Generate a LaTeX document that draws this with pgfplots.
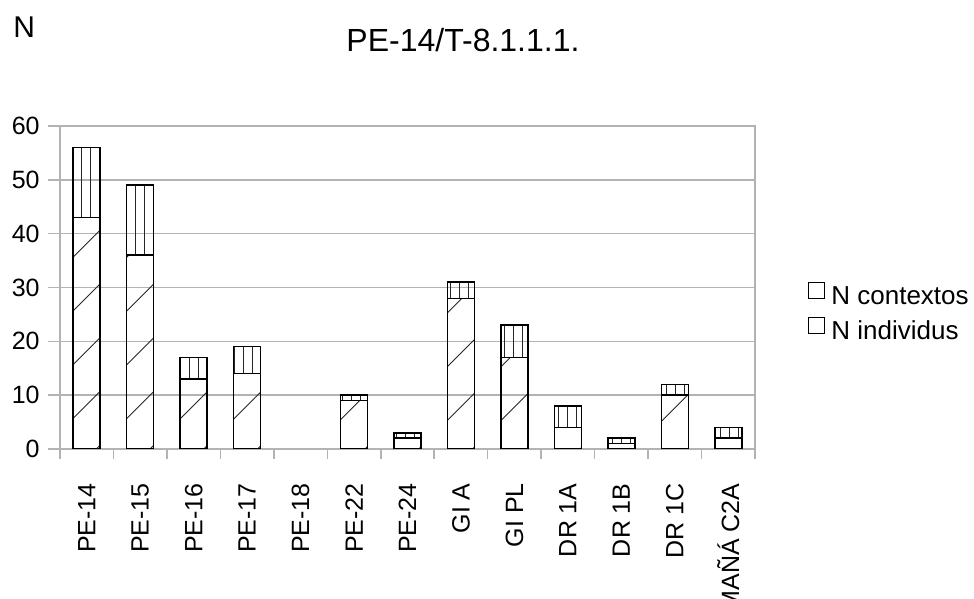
\documentclass[border=0pt]{standalone}
\usepackage{fontspec}
\setmainfont{Liberation Sans}
\usepackage{pgfplots}
\pgfplotsset{compat=1.18}
\usetikzlibrary{patterns.meta}
\definecolor{gridgray}{RGB}{179,179,179}
\begin{document}
\begin{tikzpicture}
\path[use as bounding box] (0pt,0pt) rectangle (487pt,299.5pt);
\node[anchor=base west,inner sep=0pt,font=\fontsize{15}{18}\selectfont] at (6.5pt,280.5pt) {N};
\node[anchor=base,inner sep=0pt,font=\fontsize{16}{19}\selectfont] at (231.5pt,273.5pt) {PE-14/T-8.1.1.1.};
\begin{axis}[
  at={(30pt,75pt)}, anchor=south west,
  scale only axis, width=347.5pt, height=161.5pt,
  ybar stacked, bar width=13.5pt,
  xmin=-0.5, xmax=12.5, ymin=0, ymax=60,
  ytick={0,10,...,60},
  xtick={0,...,12},
  xticklabels={PE-14,PE-15,PE-16,PE-17,PE-18,PE-22,PE-24,GI A,GI PL,DR 1A,DR 1B,DR 1C,MAÑÁ C2A},
  minor xtick={-0.5,0.5,...,12.5},
  tick align=outside, xtick pos=bottom, ytick pos=left,
  major tick length=6pt, minor tick length=5pt,
  x tick style={draw=none}, minor x tick style={draw=gridgray,line width=0.8pt},
  y tick style={draw=gridgray,line width=0.8pt},
  ymajorgrids, major grid style={gridgray,line width=0.8pt},
  axis line style={gridgray,line width=0.8pt},
  tick label style={font=\fontsize{12.5}{14}\selectfont},
  /pgf/number format/assume math mode=true,
  yticklabel style={anchor=east,inner sep=0pt,xshift=-4pt},
  xticklabel style={rotate=90,anchor=east,inner sep=0pt,xshift=-11pt},
  reverse legend,
  legend style={at={(1,0.5)},anchor=west,xshift=26.5pt,yshift=-13pt,
    draw=none,fill=none,inner sep=0pt,row sep=4pt,column sep=3pt,
    font=\fontsize{13}{15}\selectfont,
    nodes={inner sep=0pt,text height=9pt,text depth=2.5pt}},
  legend cell align=left,
  legend image code/.code={\node[draw=black,fill=white,line width=0.5pt,minimum size=8pt,inner sep=0pt,text height=0pt,text depth=0pt,anchor=south west] at (0pt,-0.5pt) {};},
]
\addplot[draw=black,line width=0.75pt,pattern={Lines[angle=45,distance=19pt,line width=0.45pt]},pattern color=black!85]
  coordinates {(0,43) (1,36) (2,13) (3,14) (5,9) (6,2) (7,28) (8,17) (9,4) (10,1) (11,10) (12,2)};
\addplot[draw=black,line width=0.75pt,pattern={Lines[angle=90,distance=4.5pt,line width=0.45pt]},pattern color=black!85]
  coordinates {(0,13) (1,13) (2,4) (3,5) (5,1) (6,1) (7,3) (8,6) (9,4) (10,1) (11,2) (12,2)};
\legend{N individus,N contextos}
\end{axis}
\end{tikzpicture}
\end{document}
